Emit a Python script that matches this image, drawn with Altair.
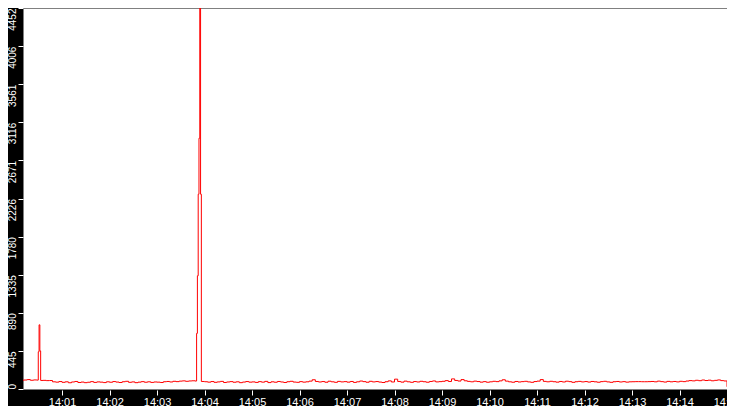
import altair as alt
import pandas as pd

# base samples every 4 s starting 14:00:00
base_values = [
    106, 108, 103, 105, 110, 102, 106, 104, 100, 101, 98, 99, 84, 80, 87,
    78, 84, 73, 82, 88, 76, 81, 74, 79, 86, 77, 83, 80, 75, 84,
    79, 87, 81, 76, 85, 90, 78, 83, 74, 80, 86, 79, 84, 77, 82,
    80, 76, 85, 88, 82, 90, 86, 92, 95, 90, 94, 96, 93, 88, 86,
    85, 80, 87, 78, 83, 89, 76, 82, 86, 79, 84, 74, 81, 87, 80,
    83, 77, 86, 80, 89, 75, 84, 79, 88, 82, 76, 85, 90, 81, 78,
    86, 80, 84, 92, 108, 88, 82, 87, 79, 91, 84, 78, 89, 83, 86,
    80, 88, 77, 84, 93, 86, 79, 90, 83, 87, 81, 76, 85, 95, 82,
    115, 88, 80, 92, 84, 78, 87, 82, 90, 85, 79, 88, 94, 83, 86,
    90, 98, 88, 118, 100, 93, 110, 96, 89, 84, 92, 87, 80, 86, 79,
    84, 90, 86, 95, 108, 92, 84, 79, 88, 82, 86, 90, 83, 78, 87,
    92, 110, 89, 84, 90, 85, 80, 88, 82, 91, 86, 78, 85, 89, 83,
    87, 81, 88, 84, 79, 86, 90, 83, 78, 85, 88, 82, 86, 80, 84,
    85, 86, 86, 85, 85, 86, 88, 84, 92, 86, 81, 89, 84, 88, 83,
    90, 86, 93, 98, 95, 102, 97, 105, 99, 103, 96, 101, 106, 98, 94,
    26,
]
base_step = 4  # seconds between base samples (seconds after 14:00:00)

# spikes (seconds after 14:00:00, value)
spike1_t = [30, 31, 32, 33]
spike1_v = [435, 750, 445, 100]
spike2_t = [230, 231, 232, 233, 234, 235, 236]
spike2_v = [650, 1323, 2276, 2930, 4452, 2276, 88]

y_max = 4452
y_ticks = [round(i * 445.2, 1) for i in range(11)]
x_ticks = [60 * m for m in range(1, 16)]  # 14:01 ... 14:15
x_domain = [10.7, 900]

pts = {i * base_step: v for i, v in enumerate(base_values)}
for t, v in zip(spike1_t + spike2_t, spike1_v + spike2_v):
    pts[t] = v
secs = sorted(pts)
df = pd.DataFrame({"sec": secs, "value": [pts[s] for s in secs]})

chart = alt.Chart(df).mark_line(
    color="#ff0000", strokeWidth=1, interpolate="step-after", clip=True
).encode(
    x=alt.X("sec:Q", scale=alt.Scale(domain=x_domain, nice=False, zero=False),
            axis=alt.Axis(title=None, values=x_ticks,
                          labelExpr="'14:' + (datum.value < 600 ? '0' : '') + (datum.value / 60)",
                          domain=False, grid=False, ticks=True, tickColor="white",
                          tickSize=5, offset=1, labelColor="white",
                          labelFont="Liberation Sans", labelFontSize=11,
                          labelPadding=1, labelFlush=False, labelBound=False,
                          labelOverlap=False)),
    y=alt.Y("value:Q", scale=alt.Scale(domain=[0, y_max], nice=False, zero=True),
            axis=alt.Axis(title=None, values=y_ticks, labelExpr="floor(datum.value)",
                          domain=False, grid=False, tickColor="white", tickSize=5,
                          labelColor="white", labelFont="Liberation Sans",
                          labelFontSize=10, labelAngle=270,
                          labelAlign=alt.condition("datum.value == 0", alt.value("left"), alt.value("right")),
                          labelBaseline="bottom", labelPadding=1,
                          labelFlush=False, labelBound=False, labelOverlap=False)),
).properties(
    width=704, height=381,
    autosize=alt.AutoSizeParams(type="none"),
    padding={"left": 15, "top": 0, "right": 0, "bottom": 17},
    background="black",
).configure_view(fill="white", stroke="transparent")

chart.save("out.html", embed_options={"renderer": "svg", "actions": False})
